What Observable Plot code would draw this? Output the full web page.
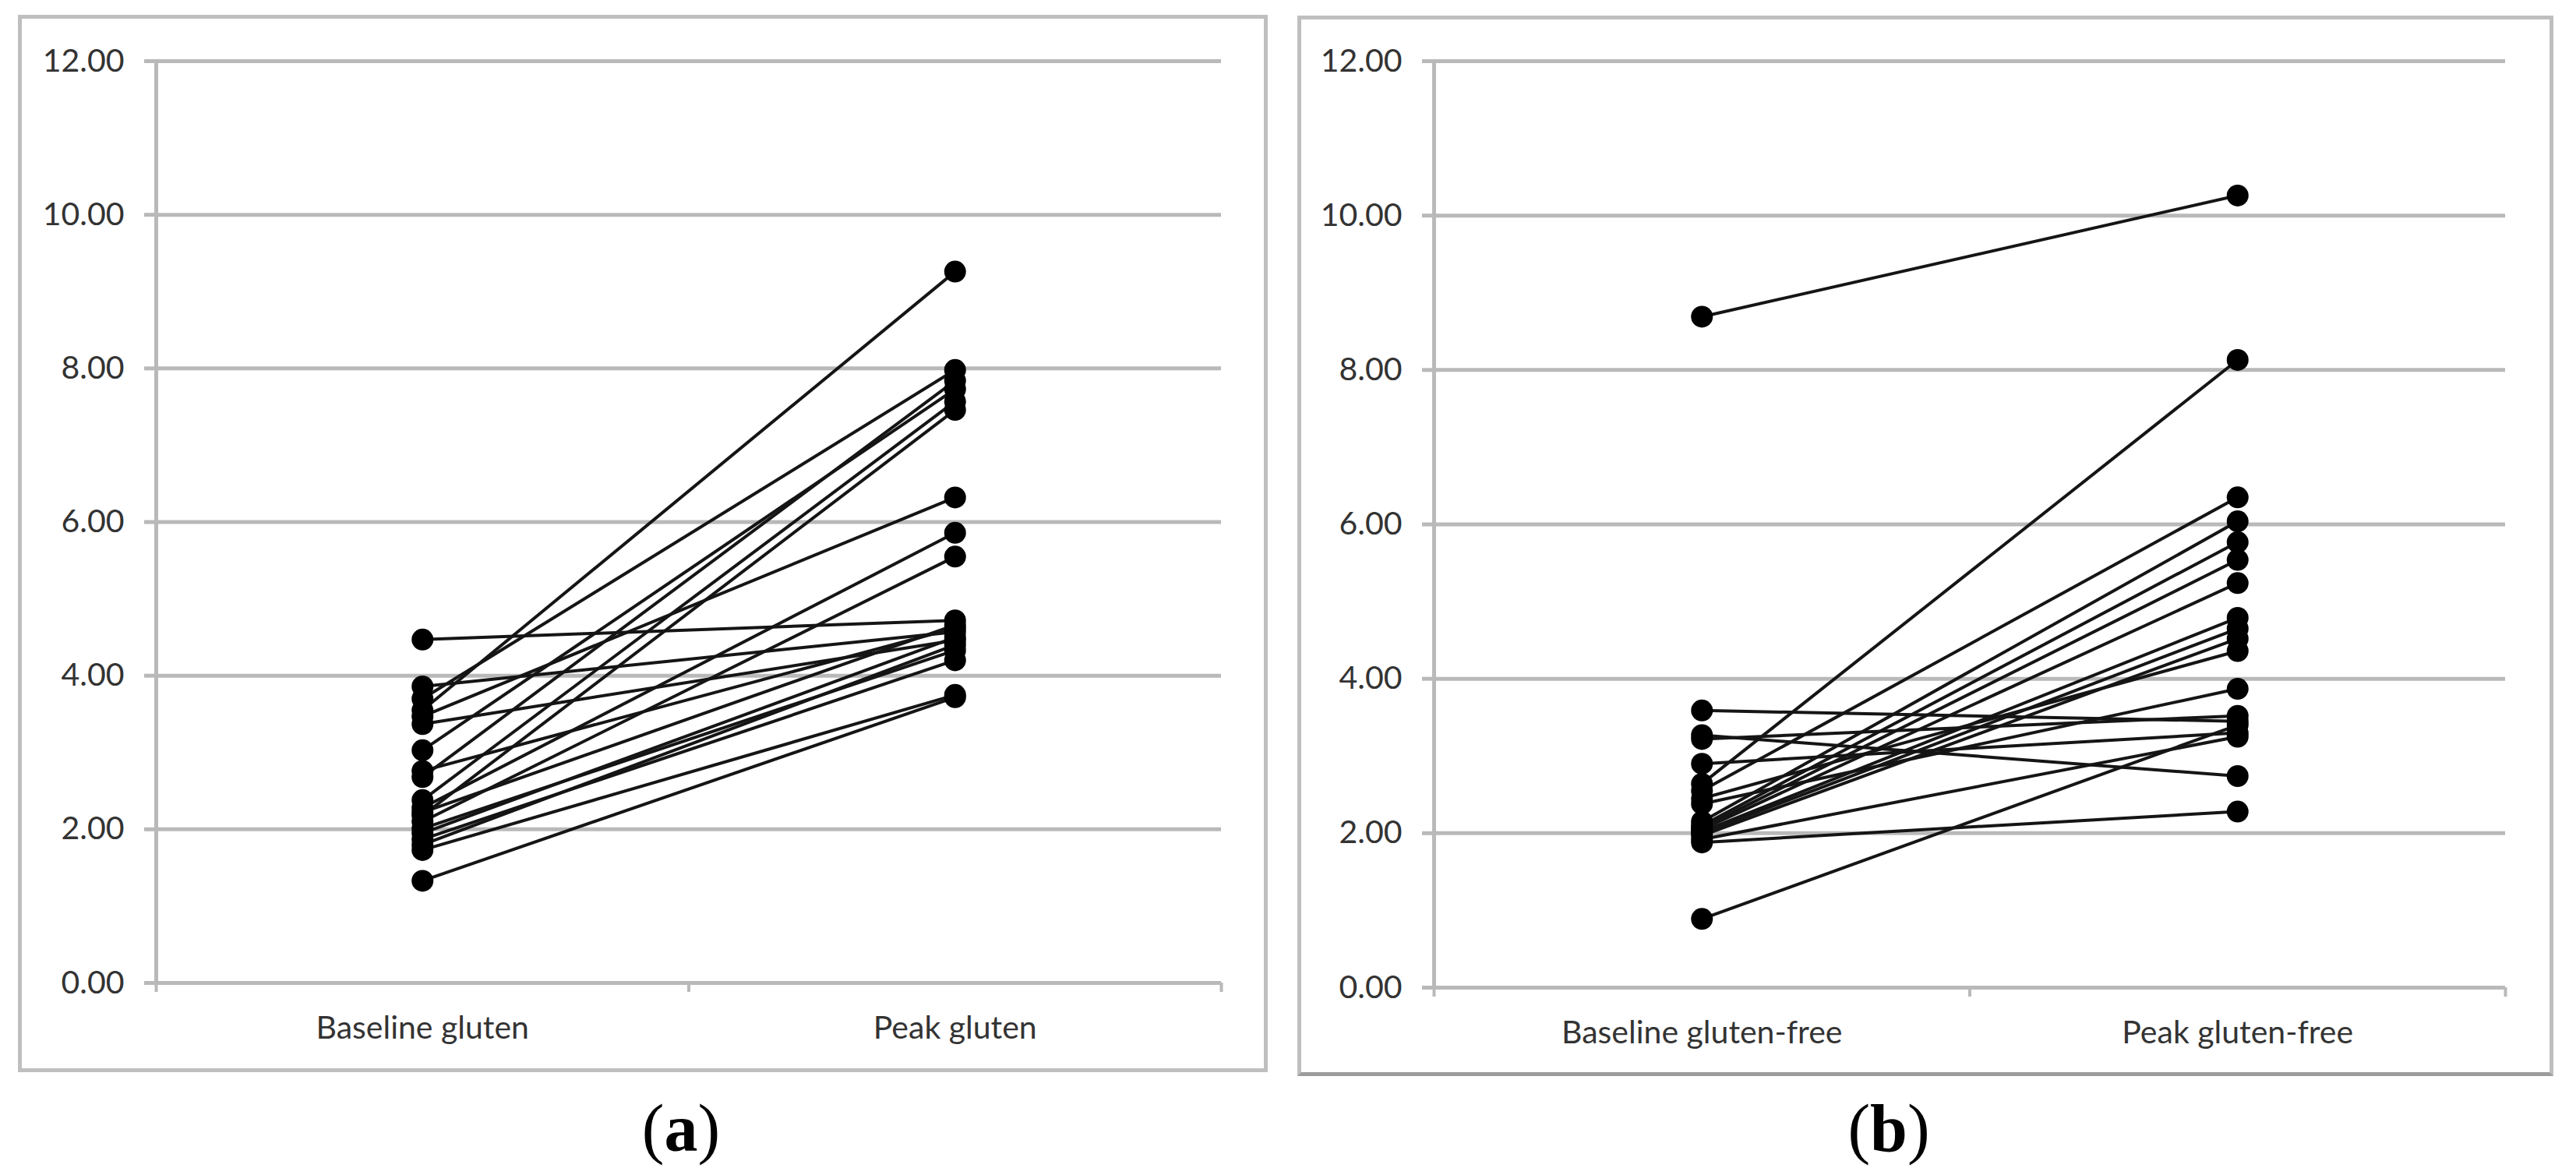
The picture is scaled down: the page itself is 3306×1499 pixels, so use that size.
<!DOCTYPE html>
<html>
<head>
<meta charset="utf-8">
<script src="https://cdn.jsdelivr.net/npm/d3@7"></script>
<script src="https://cdn.jsdelivr.net/npm/@observablehq/plot@0.6"></script>
<style>
  html, body { margin: 0; padding: 0; background: #fff; }
  #fig { position: relative; width: 3306px; height: 1499px; background: #fff; overflow: hidden; }
  .panel { position: absolute; box-sizing: border-box; border: 5px solid #bfbfbf; background: #fff; }
  .panel svg { display: block; }
  .cap { position: absolute; font-family: "Liberation Serif", "DejaVu Serif", serif; font-size: 86px; color: #000; transform: translateX(-50%); white-space: nowrap; line-height: 1; }
  .cap b { font-weight: bold; }
</style>
</head>
<body>
<div id="fig">
  <div id="pa" class="panel" style="left:23px; top:19px; width:1604px; height:1357px;"></div>
  <div id="pb" class="panel" style="left:1665px; top:20px; width:1612px; height:1361px; border-bottom-color:#9c9c9c;"></div>
  <div class="cap" style="left:874px; top:1405px;">(<b>a</b>)</div>
  <div class="cap" style="left:2424px; top:1405px;">(<b>b</b>)</div>
</div>
<script>
// ---- data ----
const yTicks = [0, 2, 4, 6, 8, 10, 12];

const categoriesA = ["Baseline gluten", "Peak gluten"];
const baselineA = [4.47, 3.86, 3.70, 3.55, 3.47, 3.37, 3.03, 2.76, 2.68, 2.38, 2.28, 2.18, 2.10, 2.01, 1.95, 1.87, 1.80, 1.73, 1.33, 2.22];
const peakA     = [4.72, 4.57, 7.98, 9.26, 6.32, 4.46, 7.73, 4.62, 7.84, 7.57, 5.86, 7.46, 5.55, 4.33, 4.50, 4.20, 4.40, 3.75, 3.72, 4.66];

const categoriesB = ["Baseline gluten-free", "Peak gluten-free"];
const baselineB = [8.69, 3.59, 3.27, 3.22, 2.90, 2.64, 2.55, 2.45, 2.38, 2.15, 2.10, 2.07, 2.05, 2.02, 2.00, 1.97, 1.92, 1.88, 0.89];
const peakB     = [10.26, 3.45, 2.74, 3.52, 3.30, 8.13, 6.35, 4.36, 3.87, 6.04, 5.77, 5.54, 5.24, 4.79, 4.65, 4.52, 3.25, 2.28, 3.40];

// category index -> centre of its slot on a [0, n] axis
const slot = i => i + 0.5;

function panel(categories, base, peak, dims) {
  const pairs = base.map((b, i) => ({ b, p: peak[i], c0: slot(0), c1: slot(1) }));
  const points = [
    ...base.map(v => ({ c: slot(0), v })),
    ...peak.map(v => ({ c: slot(1), v }))
  ];
  const grid = "#b9b9b9";
  const ink = "#333333";
  return Plot.plot({
    width: dims.width,
    height: dims.height,
    marginLeft: dims.ml,
    marginRight: dims.mr,
    marginTop: dims.mt,
    marginBottom: dims.mb,
    x: { domain: [0, categories.length], axis: null },
    y: { domain: [0, 12], axis: null },
    style: { fontFamily: "Lato, 'Open Sans', sans-serif", fontSize: "41px", background: "#fff", overflow: "visible" },
    marks: [
      Plot.ruleY(yTicks, { stroke: grid, strokeWidth: 5 }),
      Plot.ruleX([0], { y1: 0, y2: 12, stroke: grid, strokeWidth: 5 }),
      Plot.axisY({ ticks: yTicks, tickSize: 15, tickPadding: 26, tickFormat: d3.format(".2f"),
                   stroke: grid, strokeWidth: 5, fill: ink }),
      Plot.axisX({ ticks: d3.range(categories.length + 1), tickSize: 12, tickFormat: () => "",
                   stroke: grid, strokeWidth: 4 }),
      Plot.axisX({ ticks: categories.map((_, i) => slot(i)), tickSize: 0, tickPadding: 42,
                   tickFormat: d => categories[Math.floor(d)], fill: ink }),
      Plot.link(pairs, { x1: "c0", y1: "b", x2: "c1", y2: "p", stroke: "#151515", strokeWidth: 4 }),
      Plot.dot(points, { x: "c", y: "v", r: 14, fill: "#000", stroke: "none" })
    ]
  });
}

document.getElementById("pa").appendChild(
  panel(categoriesA, baselineA, peakA, { width: 1594, height: 1347, ml: 172, mr: 55, mt: 54, mb: 110 })
);
document.getElementById("pb").appendChild(
  panel(categoriesB, baselineB, peakB, { width: 1602, height: 1351, ml: 170, mr: 57, mt: 53, mb: 109 })
);
</script>
</body>
</html>
